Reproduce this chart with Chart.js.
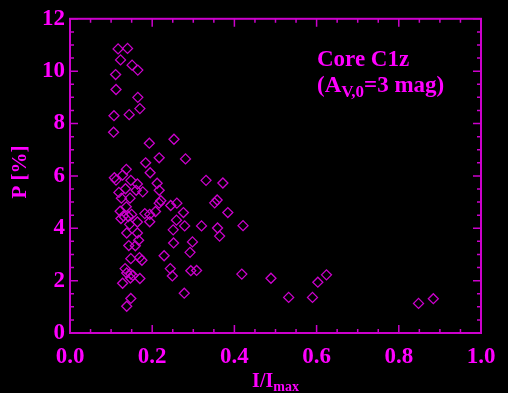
<!DOCTYPE html>
<html>
<head>
<meta charset="utf-8">
<script src="https://cdn.jsdelivr.net/npm/chart.js@4"></script>
<style>
html,body{margin:0;padding:0;background:#000;}
#wrap{width:508px;height:393px;position:relative;}
</style>
</head>
<body>
<div id="wrap"><canvas id="c" width="508" height="393"></canvas></div>
<script>
// Data (I/Imax, P [%])
const intensity = [0.117,0.140,0.123,0.151,0.165,0.111,0.112,0.165,0.170,0.107,0.144,0.106,0.193,0.253,0.217,0.281,0.184,0.137,0.195,0.128,0.108,0.112,0.148,0.164,0.212,0.135,0.177,0.161,0.119,0.217,0.125,0.146,0.221,0.217,0.260,0.245,0.137,0.122,0.276,0.208,0.182,0.194,0.150,0.130,0.142,0.124,0.259,0.194,0.164,0.279,0.145,0.251,0.138,0.164,0.167,0.252,0.298,0.143,0.159,0.292,0.229,0.148,0.169,0.175,0.244,0.249,0.294,0.308,0.134,0.138,0.148,0.153,0.147,0.170,0.128,0.148,0.138,0.278,0.331,0.372,0.358,0.352,0.384,0.320,0.359,0.421,0.364,0.418,0.489,0.603,0.624,0.532,0.590,0.848,0.884];
const polarization = [10.85,10.87,10.43,10.23,10.04,9.87,9.30,9.00,8.57,8.30,8.34,7.67,7.25,7.40,6.69,6.65,6.50,6.25,6.12,6.03,5.93,5.84,5.83,5.69,5.72,5.51,5.39,5.45,5.37,5.45,5.15,5.15,5.05,4.96,4.96,4.87,4.82,4.65,4.60,4.64,4.56,4.53,4.53,4.47,4.45,4.37,4.31,4.25,4.24,4.09,4.15,3.94,3.82,3.82,3.54,3.44,3.48,3.34,3.33,3.08,2.95,2.84,2.88,2.78,2.46,2.18,2.38,2.39,2.46,2.29,2.25,2.20,2.10,2.08,1.90,1.32,1.02,1.52,5.83,5.73,5.08,4.97,4.60,4.09,4.01,4.10,3.70,2.25,2.09,1.94,2.22,1.36,1.36,1.13,1.31];
const xTickValues = [0.0,0.2,0.4,0.6,0.8,1.0];
const yTickValues = [0,2,4,6,8,10,12];
const xTitle = ['I/I','max'];
const yTitle = 'P [%]';
const noteLine1 = 'Core C1z';
const noteLine2 = ['(A','V,0','=3 mag)'];

const TEXT = '#ff00ff';
const LINE = '#cc00cc';
const FONT = '"Liberation Serif", "DejaVu Serif", serif';

const points = intensity.map((v,i)=>({x:v,y:polarization[i]}));

const framePlugin = {
  id:'frame',
  afterDatasetsDraw(chart){
    const {ctx, chartArea:a, scales:{x,y}} = chart;
    ctx.save();
    ctx.strokeStyle = LINE;
    ctx.lineWidth = 2;
    ctx.strokeRect(a.left, a.top, a.right-a.left, a.bottom-a.top);
    ctx.lineWidth = 1.5;
    ctx.beginPath();
    // x ticks (every 0.05, major every 0.2)
    for(let i=0;i<=20;i++){
      const v=i*0.05; const px=x.getPixelForValue(v);
      const len = (i%4===0)?8:4;
      ctx.moveTo(px,a.bottom); ctx.lineTo(px,a.bottom-len);
      ctx.moveTo(px,a.top); ctx.lineTo(px,a.top+len);
    }
    // y ticks (every 0.5, major every 2)
    for(let i=0;i<=24;i++){
      const v=i*0.5; const py=y.getPixelForValue(v);
      const len = (i%4===0)?8:4;
      ctx.moveTo(a.left,py); ctx.lineTo(a.left+len,py);
      ctx.moveTo(a.right,py); ctx.lineTo(a.right-len,py);
    }
    ctx.stroke();

    ctx.fillStyle = TEXT;
    ctx.textBaseline = 'alphabetic';
    // x title with subscript
    const big = 'bold 20px '+FONT, small = 'bold 14px '+FONT;
    ctx.font = big; const w1 = ctx.measureText(xTitle[0]).width;
    ctx.font = small; const w2 = ctx.measureText(xTitle[1]).width;
    const cx = (a.left+a.right)/2;
    let sx = cx - (w1+w2)/2;
    ctx.font = big; ctx.textAlign='left'; ctx.fillText(xTitle[0], sx, 387);
    ctx.font = small; ctx.fillText(xTitle[1], sx+w1, 391);
    // y title rotated
    ctx.save();
    ctx.translate(26, 172);
    ctx.rotate(-Math.PI/2);
    ctx.font = 'bold 21px '+FONT;
    ctx.textAlign='center';
    ctx.fillText(yTitle, 0, 0);
    ctx.restore();
    // annotation
    ctx.textAlign='left';
    ctx.font = 'bold 23px '+FONT;
    ctx.fillText(noteLine1, 317, 66);
    let nx = 317;
    ctx.fillText(noteLine2[0], nx, 92); nx += ctx.measureText(noteLine2[0]).width;
    ctx.font = 'bold 17px '+FONT;
    ctx.fillText(noteLine2[1], nx, 97); nx += ctx.measureText(noteLine2[1]).width;
    ctx.font = 'bold 23px '+FONT;
    ctx.fillText(noteLine2[2], nx, 92);
    ctx.restore();
  }
};

new Chart(document.getElementById('c'), {
  type:'scatter',
  data:{datasets:[{
    data:points,
    pointStyle:'rectRot',
    pointRadius:5,
    pointBorderWidth:1.3,
    pointBorderColor:LINE,
    pointBackgroundColor:'rgba(0,0,0,0)',
    pointHoverRadius:5
  }]},
  options:{
    responsive:false,
    animation:false,
    events:[],
    layout:{padding:{top:12,right:27,left:0,bottom:0}},
    plugins:{legend:{display:false},tooltip:{enabled:false}},
    scales:{
      x:{
        type:'linear',min:0,max:1,
        afterFit(s){s.height=60;},
        afterBuildTicks(s){s.ticks = xTickValues.map(v=>({value:v}));},
        grid:{display:false,drawTicks:false},
        border:{display:false},
        ticks:{color:TEXT,font:{family:FONT,size:23,weight:'bold'},padding:10,maxRotation:0,
          callback:v=>Number(v).toFixed(1)}
      },
      y:{
        type:'linear',min:0,max:12,
        afterFit(s){s.width=70;},
        afterBuildTicks(s){s.ticks = yTickValues.map(v=>({value:v}));},
        grid:{display:false,drawTicks:false},
        border:{display:false},
        ticks:{color:TEXT,font:{family:FONT,size:23,weight:'bold'},padding:5,
          callback:v=>String(v)}
      }
    }
  },
  plugins:[framePlugin]
});
</script>
</body>
</html>
